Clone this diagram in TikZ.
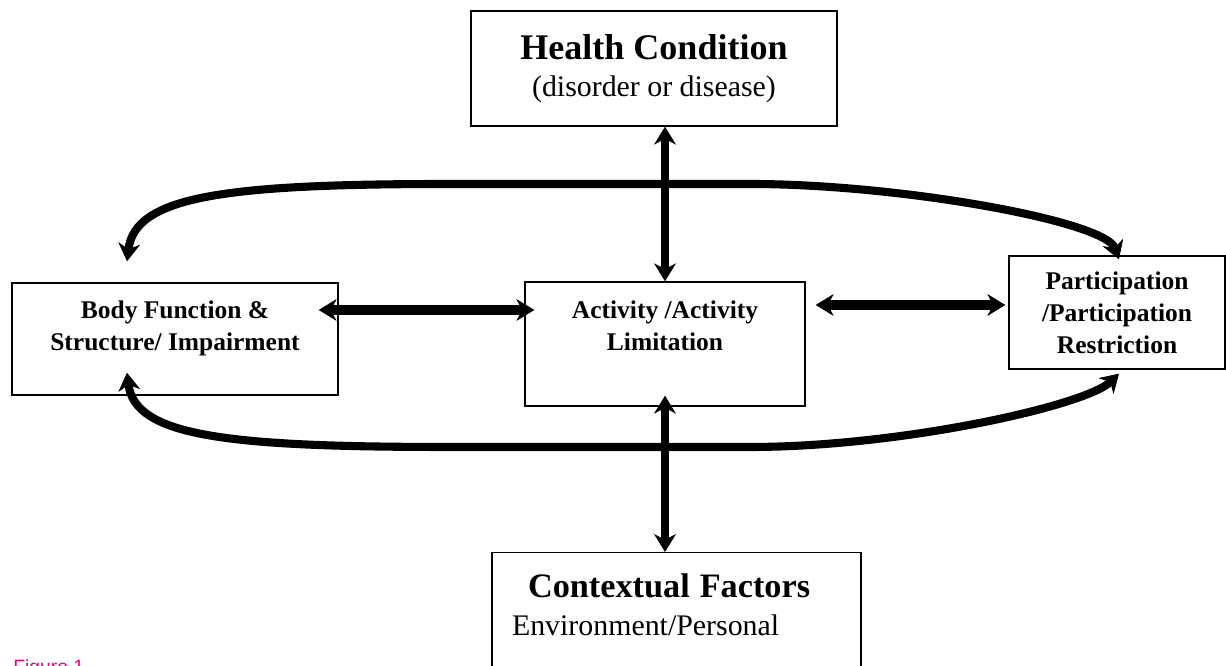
\documentclass[tikz,border=0pt]{standalone}
\usepackage{fontspec}
\setmainfont{Liberation Serif}
\newfontfamily\figfont{Liberation Sans}
\usetikzlibrary{arrows.meta}
\newcommand{\lowpad}[1]{\rule[-#1]{0pt}{#1}}

\begin{document}
\begin{tikzpicture}[scale=1,
		>={Stealth[length=0.36cm,width=0.44cm,line width=0.5pt]},
		box/.style={draw,line width=0.8pt,align=center,inner sep=0pt},
		small/.style={font=\fontsize{14.5}{18.2}\selectfont\bfseries},
		link/.style={line width=4.6pt,<->}]
	\useasboundingbox (0,0) rectangle (24.52,13.32);
	\node[box,minimum width=7.32cm,minimum height=2.3cm,font=\fontsize{17}{21}\selectfont] (health) at (13.08,11.95) {{\bfseries\fontsize{20.5}{21}\selectfont Health Condition}\\(disorder or disease)};
	\node[box,small,minimum width=6.52cm,minimum height=2.24cm] (body) at (3.50,6.54) {Body Function \&\\Structure/ Impairment\lowpad{0.55cm}};
	\node[box,small,minimum width=5.6cm,minimum height=2.48cm] (activity) at (13.30,6.44) {Activity /Activity\\Limitation\lowpad{0.75cm}};
	\node[box,small,minimum width=4.32cm,minimum height=2.26cm] (part) at (22.34,7.07) {Participation\\/Participation\\Restriction};
	\node[box,anchor=north,align=left,text width=6.58cm,inner xsep=0.4cm,minimum height=2.76cm,font=\fontsize{17}{21.5}\selectfont] (context) at (13.53,2.28) {\hspace*{0.32cm}{\bfseries\fontsize{19.5}{21.5}\selectfont Contextual Factors}\\Environment/Personal\lowpad{0.67cm}};
	\node[anchor=base west,inner sep=0pt,text=magenta,font=\figfont\fontsize{11}{13}\selectfont] (fig) at (0.26,-0.16) {Figure 1};
	\draw[link] (health.south -| activity.north) -- (activity.north);
	\draw[link] ([yshift=0.22cm]activity.south) -- (context.north -| activity.south);
	\draw[link,line width=5.4pt] ([xshift=-0.4cm,yshift=0.58cm]body.east) -- ([xshift=0.2cm,yshift=0.68cm]activity.west);
	\draw[link,line width=5.4pt] ([xshift=0.2cm,yshift=0.78cm]activity.east) -- ([xshift=-0.06cm,yshift=0.15cm]part.west);
	\draw[link] ([xshift=-0.96cm,yshift=0.42cm]body.north) .. controls (2.7,9.4) and (4.5,9.64) .. (9,9.64) -- (15,9.64) .. controls (18,9.64) and (22.1,8.9) .. ([xshift=0.04cm,yshift=-0.08cm]part.north);
	\draw[link] ([xshift=-0.96cm,yshift=0.46cm]body.south) .. controls (2.7,4.6) and (4.5,4.38) .. (9,4.38) -- (15,4.38) .. controls (18,4.38) and (21.7,5.2) .. ([xshift=0.04cm,yshift=-0.08cm]part.south);
\end{tikzpicture}
\end{document}
